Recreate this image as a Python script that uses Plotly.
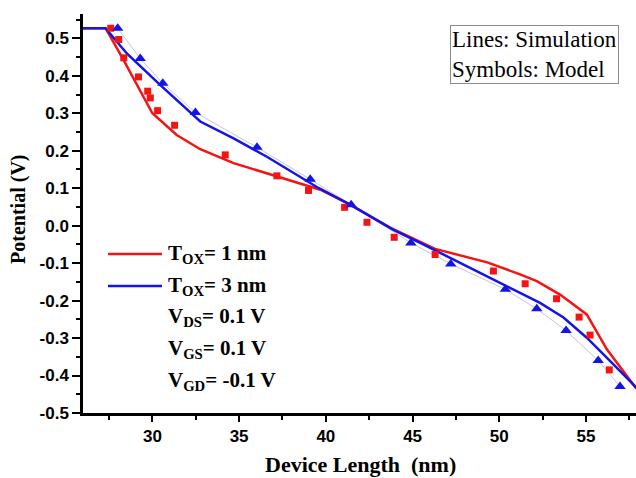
import plotly.graph_objects as go

# Simulation curves (lines)
sim_x_1nm = [26.0, 27.3, 28.35, 29.3, 30.0, 31.4, 32.76, 34.68, 37.18, 39.68, 41.4, 43.7,
             46.3, 49.3, 51.2, 52.16, 53.5, 55.04, 56.2, 57.9]
sim_y_1nm = [0.527, 0.527, 0.441, 0.362, 0.300, 0.242, 0.204, 0.167, 0.131, 0.096, 0.056, -0.005,
             -0.062, -0.098, -0.130, -0.148, -0.184, -0.237, -0.330, -0.435]

sim_x_3nm = [26.0, 27.3, 28.54, 30.46, 32.76, 34.68, 36.6, 39.6, 41.4, 43.9, 45.44, 47.36,
             50.24, 51.2, 52.35, 53.7, 55.04, 56.38, 57.9]
sim_y_3nm = [0.527, 0.527, 0.459, 0.375, 0.278, 0.233, 0.184, 0.100, 0.056, -0.011, -0.046, -0.090,
             -0.158, -0.178, -0.206, -0.245, -0.299, -0.361, -0.432]

# Analytical model (symbols)
mod_x_1nm = [27.6, 28.06, 28.35, 29.2, 29.73, 29.88, 30.3, 31.28, 34.2, 37.18, 39.0, 41.08,
             42.37, 43.94, 46.3, 49.66, 51.49, 53.3, 54.6, 55.23, 56.34]
mod_y_1nm = [0.527, 0.497, 0.448, 0.397, 0.359, 0.341, 0.307, 0.268, 0.189, 0.133, 0.094, 0.049,
             0.009, -0.031, -0.077, -0.121, -0.155, -0.195, -0.244, -0.292, -0.385]

mod_x_3nm = [28.0, 29.3, 30.6, 32.48, 36.03, 39.1, 41.46, 44.9, 47.2, 50.35, 52.16, 53.85, 55.7, 56.96]
mod_y_3nm = [0.527, 0.446, 0.380, 0.302, 0.209, 0.124, 0.056, -0.046, -0.102, -0.170, -0.222,
             -0.280, -0.360, -0.429]

x_ticks = [30, 35, 40, 45, 50, 55]
y_ticks = [0.5, 0.4, 0.3, 0.2, 0.1, 0.0, -0.1, -0.2, -0.3, -0.4, -0.5]
y_tick_text = ["0.5", "0.4", "0.3", "0.2", "0.1", "0.0", "-0.1", "-0.2", "-0.3", "-0.4", "-0.5"]

X_RANGE = [26.0, 57.88]
Y_RANGE = [-0.5, 0.565]

RED = "#f41414"
BLUE = "#1414e6"
FAINT = "rgb(195,195,235)"

fig = go.Figure()

fig.add_trace(go.Scatter(x=mod_x_3nm, y=mod_y_3nm, mode="lines",
                         line=dict(color=FAINT, width=1), showlegend=False))
fig.add_trace(go.Scatter(x=sim_x_1nm, y=sim_y_1nm, mode="lines",
                         line=dict(color=RED, width=2.5), showlegend=False))
fig.add_trace(go.Scatter(x=sim_x_3nm, y=sim_y_3nm, mode="lines",
                         line=dict(color=BLUE, width=2.5), showlegend=False))
fig.add_trace(go.Scatter(x=mod_x_1nm, y=mod_y_1nm, mode="markers",
                         marker=dict(symbol="square", color=RED, size=7, line=dict(width=0)),
                         showlegend=False))
fig.add_trace(go.Scatter(x=mod_x_3nm, y=mod_y_3nm, mode="markers",
                         marker=dict(symbol="triangle-up", color=BLUE, size=10, line=dict(width=0)),
                         showlegend=False))

tick_font = dict(family="Liberation Sans", size=17, color="black", weight="bold")

fig.update_layout(
    width=636, height=478,
    margin=dict(l=83, r=0, t=14, b=65),
    paper_bgcolor="white", plot_bgcolor="white",
    xaxis=dict(range=X_RANGE, tickvals=x_ticks, ticks="outside", ticklen=6, tickwidth=2,
               tickcolor="black", showline=True, linewidth=2.5, linecolor="black",
               showgrid=False, zeroline=False, tickfont=tick_font,
               minor=dict(ticks="outside", ticklen=4, tickwidth=2, dtick=2.5, tick0=0,
                          tickcolor="black")),
    yaxis=dict(range=Y_RANGE, tickvals=y_ticks, ticktext=y_tick_text, ticks="outside",
               ticklen=8, tickwidth=2, tickcolor="black", showline=True, linewidth=2.5,
               linecolor="black", showgrid=False, zeroline=False, tickfont=tick_font,
               minor=dict(ticks="outside", ticklen=4, tickwidth=2, dtick=0.05, tick0=0,
                          tickcolor="black")),
    xaxis2=dict(range=X_RANGE, overlaying="x", side="top", anchor="y", tickvals=x_ticks,
                ticks="inside", ticklen=6, tickwidth=2, tickcolor="black",
                showticklabels=False, showline=True, linewidth=2.5, linecolor="black",
                showgrid=False, zeroline=False,
                minor=dict(ticks="inside", ticklen=4, tickwidth=2, dtick=2.5, tick0=0,
                           tickcolor="black")),
    yaxis2=dict(range=Y_RANGE, overlaying="y", side="right", anchor="x", tickvals=y_ticks,
                ticks="inside", ticklen=8, tickwidth=2, tickcolor="black",
                showticklabels=False, showline=True, linewidth=2.5, linecolor="black",
                showgrid=False, zeroline=False,
                minor=dict(ticks="inside", ticklen=4, tickwidth=2, dtick=0.05, tick0=0,
                           tickcolor="black")),
)

serif_bold = dict(family="Liberation Serif", size=21, color="black", weight="bold")

# axis titles
fig.add_annotation(text="Device Length  (nm)", xref="paper", yref="paper", x=0.501, y=-0.128,
                   xanchor="center", yanchor="middle", showarrow=False,
                   font=dict(family="Liberation Serif", size=22, color="black", weight="bold"))
fig.add_annotation(text="Potential (V)", xref="paper", yref="paper", x=-0.1157, y=0.509,
                   xanchor="center", yanchor="middle", textangle=-90, showarrow=False,
                   font=dict(family="Liberation Serif", size=20, color="black", weight="bold"))

# key box
fig.add_annotation(text="Lines: Simulation<br>Symbols: Model", xref="paper", yref="paper",
                   x=0.6637, y=0.9724, xanchor="left", yanchor="top", align="left",
                   showarrow=False, bordercolor="#8a8a8a", borderwidth=1, borderpad=1,
                   bgcolor="white",
                   font=dict(family="Liberation Serif", size=23, color="black"))


def px_x(px):
    return (px - 83) / 553


def px_y(py):
    return (413 - py) / 399


# line key
for color, row in [(RED, 254), (BLUE, 286)]:
    fig.add_shape(type="line", xref="paper", yref="paper", x0=px_x(108), x1=px_x(162),
                  y0=px_y(row), y1=px_y(row), line=dict(color=color, width=2.5))

key_rows = [
    ("T<sub>OX</sub>= 1 nm", 254),
    ("T<sub>OX</sub>= 3 nm", 286),
    ("V<sub>DS</sub>= 0.1 V", 317),
    ("V<sub>GS</sub>= 0.1 V", 349),
    ("V<sub>GD</sub>= -0.1 V", 381),
]
for text, row in key_rows:
    fig.add_annotation(text=text, xref="paper", yref="paper", x=px_x(166), y=px_y(row),
                       xanchor="left", yanchor="middle", showarrow=False, font=serif_bold)

fig.write_html("out.html")
